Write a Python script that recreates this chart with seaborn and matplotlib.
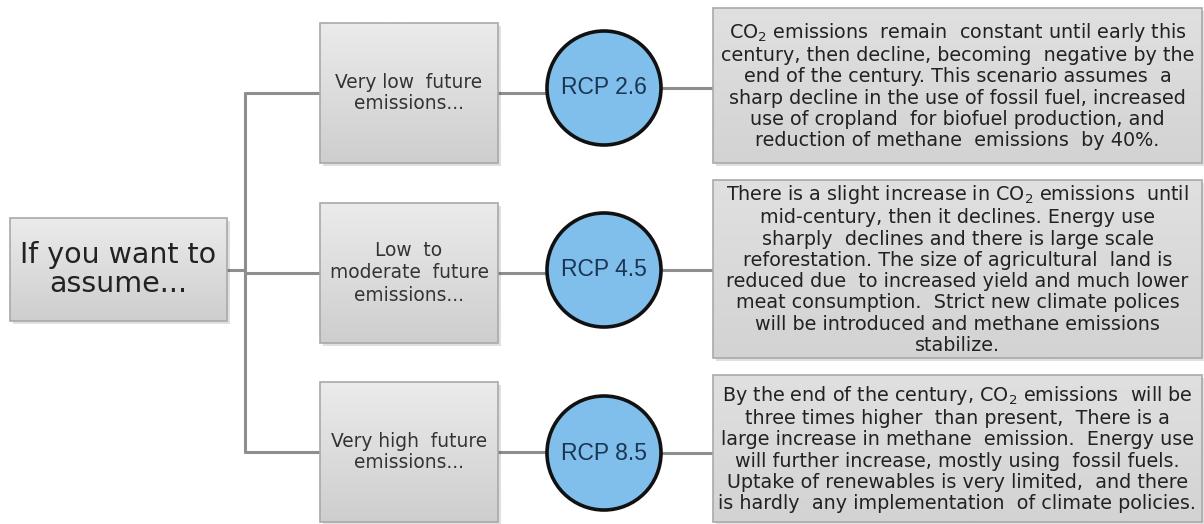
import matplotlib.pyplot as plt
import numpy as np
import seaborn as sns
from matplotlib.colors import LinearSegmentedColormap
from matplotlib.patches import Circle, Rectangle

sns.set_style("white")

# content of the diagram
root_label = "If you want to\nassume..."
emission_labels = [
    "Very low  future\nemissions...",
    "Low  to\nmoderate  future\nemissions...",
    "Very high  future\nemissions...",
]
rcp_labels = ["RCP 2.6", "RCP 4.5", "RCP 8.5"]
descriptions = [
    "CO$_2$ emissions  remain  constant until early this\n"
    "century, then decline, becoming  negative by the\n"
    "end of the century. This scenario assumes  a\n"
    "sharp decline in the use of fossil fuel, increased\n"
    "use of cropland  for biofuel production, and\n"
    "reduction of methane  emissions  by 40%.",
    "There is a slight increase in CO$_2$ emissions  until\n"
    "mid-century, then it declines. Energy use\n"
    "sharply  declines and there is large scale\n"
    "reforestation. The size of agricultural  land is\n"
    "reduced due  to increased yield and much lower\n"
    "meat consumption.  Strict new climate polices\n"
    "will be introduced and methane emissions\n"
    "stabilize.",
    "By the end of the century, CO$_2$ emissions  will be\n"
    "three times higher  than present,  There is a\n"
    "large increase in methane  emission.  Energy use\n"
    "will further increase, mostly using  fossil fuels.\n"
    "Uptake of renewables is very limited,  and there\n"
    "is hardly  any implementation  of climate policies.",
]

# layout in pixel units
W, H = 1204, 524
root_box = (10, 218, 227, 321)
trunk_x = 245
mid_x = (320, 498)
mid_y = [(23, 163), (203, 343), (382, 522)]
mid_spacing = [1.08, 1.25, 1.08]
circ_x, circ_r = 604, 57
circ_y = [88, 270, 453]
right_x = (713, 1202)
right_y = [(8, 163), (180, 358), (375, 522)]

line_color = "#8e8e8e"
text_color = "#222222"
box_cmap = LinearSegmentedColormap.from_list("box", ["#ebebeb", "#cecece"])
desc_cmap = LinearSegmentedColormap.from_list("desc", ["#e0e0e0", "#d3d3d3"])


def draw_box(ax, x0, y0, x1, y1, cmap):
    # soft shadow
    ax.add_patch(Rectangle((x0 + 3, y0 + 3), x1 - x0, y1 - y0,
                           facecolor="#000000", alpha=0.12, lw=0, zorder=1))
    grad = np.linspace(0, 1, 64).reshape(-1, 1)
    ax.imshow(grad, extent=(x0, x1, y1, y0), cmap=cmap, aspect="auto",
              origin="upper", zorder=2)
    ax.add_patch(Rectangle((x0, y0), x1 - x0, y1 - y0, facecolor="none",
                           edgecolor="#a9a9a9", lw=1.2, zorder=3))


fig = plt.figure(figsize=(12.04, 5.24), dpi=100)
ax = fig.add_axes([0, 0, 1, 1])

# connectors
ax.plot([root_box[2], trunk_x], [270, 270], color=line_color, lw=2.2, zorder=0)
ax.plot([trunk_x, trunk_x], [mid_y[0][0] + 70, mid_y[2][0] + 70],
        color=line_color, lw=2.2, zorder=0)
for (y0, y1), cy in zip(mid_y, circ_y):
    ym = (y0 + y1) / 2
    ax.plot([trunk_x, mid_x[0]], [ym, ym], color=line_color, lw=2.2, zorder=0)
    ax.plot([mid_x[1], circ_x], [ym, ym], color=line_color, lw=2.2, zorder=0)
    ax.plot([circ_x, right_x[0]], [cy, cy], color=line_color, lw=2.2, zorder=0)

# root box
draw_box(ax, *root_box, box_cmap)
ax.text((root_box[0] + root_box[2]) / 2, (root_box[1] + root_box[3]) / 2,
        root_label, ha="center", va="center", fontsize=20.5, color=text_color,
        linespacing=1.05, family="DejaVu Sans", zorder=4)

for (y0, y1), ms, cy, lab, rcp, (ry0, ry1), desc in zip(
        mid_y, mid_spacing, circ_y, emission_labels, rcp_labels,
        right_y, descriptions):
    draw_box(ax, mid_x[0], y0, mid_x[1], y1, box_cmap)
    ax.text((mid_x[0] + mid_x[1]) / 2, (y0 + y1) / 2, lab,
            ha="center", va="center", fontsize=13.4, color="#333333",
            linespacing=ms, zorder=4)

    ax.add_patch(Circle((circ_x, cy), circ_r, facecolor="#80bfeb",
                        edgecolor="#111111", lw=2.6, zorder=4))
    ax.text(circ_x, cy, rcp, ha="center", va="center", fontsize=16.5,
            family="Liberation Sans", color="#1c3553", zorder=5)

    draw_box(ax, right_x[0], ry0, right_x[1], ry1, desc_cmap)
    ax.text((right_x[0] + right_x[1]) / 2, (ry0 + ry1) / 2, desc,
            ha="center", va="center", fontsize=13.8, color=text_color,
            linespacing=1.15, zorder=4)

ax.set_xlim(0, W)
ax.set_ylim(H, 0)
ax.axis("off")

fig.savefig("out.png", dpi=100, facecolor="white")
plt.close(fig)
